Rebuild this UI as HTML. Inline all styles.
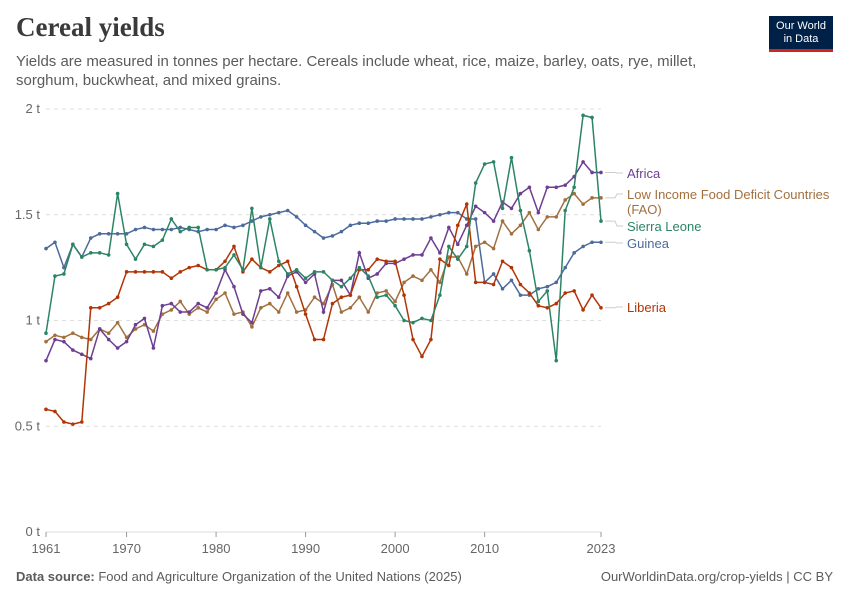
<!DOCTYPE html>
<html><head><meta charset="utf-8">
<style>
body{margin:0;background:#fff;font-family:"Liberation Sans",sans-serif;}
#wrap{position:relative;width:850px;height:600px;overflow:hidden;}
.title{position:absolute;left:16px;top:12px;font-family:"Liberation Serif",serif;font-size:27px;font-weight:bold;color:#3a3a3a;}
.sub{position:absolute;left:16px;top:52px;font-size:15px;line-height:19px;color:#5b5b5b;width:700px;}
.logo{position:absolute;left:769px;top:16px;width:64px;height:36px;background:#002147;border-bottom:3px solid #ce261e;color:#fff;font-size:11px;line-height:13px;text-align:center;padding-top:4px;box-sizing:border-box;}
.foot{position:absolute;top:569px;font-size:13px;color:#5b5b5b;}
</style></head><body>
<div id="wrap">
<div class="title">Cereal yields</div>
<div class="sub">Yields are measured in tonnes per hectare. Cereals include wheat, rice, maize, barley, oats, rye, millet, sorghum, buckwheat, and mixed grains.</div>
<div class="logo">Our World<br>in Data</div>
<svg id="chart" width="850" height="600" style="position:absolute;left:0;top:0"></svg>
<div class="foot" style="left:16px"><b>Data source:</b> Food and Agriculture Organization of the United Nations (2025)</div>
<div class="foot" style="right:17px">OurWorldinData.org/crop-yields | CC BY</div>
</div>
<script>
const firstYear = 1961;
const yTicks = [0, 0.5, 1, 1.5, 2];
const yTickLabels = ["0 t", "0.5 t", "1 t", "1.5 t", "2 t"];
const xTicks = [1961, 1970, 1980, 1990, 2000, 2010, 2023];
const guinea = [1.34,1.37,1.25,1.36,1.30,1.39,1.41,1.41,1.41,1.41,1.43,1.44,1.43,1.43,1.43,1.44,1.43,1.42,1.43,1.43,1.45,1.44,1.45,1.47,1.49,1.50,1.51,1.52,1.49,1.45,1.42,1.39,1.40,1.42,1.45,1.46,1.46,1.47,1.47,1.48,1.48,1.48,1.48,1.49,1.50,1.51,1.51,1.48,1.48,1.18,1.22,1.15,1.19,1.12,1.12,1.15,1.16,1.18,1.25,1.32,1.35,1.37,1.37];
const sierraLeone = [0.94,1.21,1.22,1.36,1.30,1.32,1.32,1.31,1.60,1.36,1.29,1.36,1.35,1.38,1.48,1.42,1.44,1.44,1.24,1.24,1.25,1.31,1.24,1.53,1.25,1.48,1.28,1.22,1.24,1.20,1.23,1.23,1.19,1.16,1.20,1.25,1.21,1.11,1.12,1.07,1.00,0.99,1.01,1.00,1.12,1.35,1.29,1.35,1.65,1.74,1.75,1.53,1.77,1.52,1.33,1.09,1.14,0.81,1.52,1.63,1.97,1.96,1.47];
const liberia = [0.58,0.57,0.52,0.51,0.52,1.06,1.06,1.08,1.11,1.23,1.23,1.23,1.23,1.23,1.20,1.23,1.25,1.26,1.24,1.24,1.28,1.35,1.23,1.29,1.25,1.23,1.26,1.28,1.16,1.03,0.91,0.91,1.08,1.11,1.12,1.24,1.24,1.29,1.28,1.28,1.12,0.91,0.83,0.91,1.29,1.26,1.45,1.55,1.18,1.18,1.17,1.28,1.25,1.17,1.13,1.07,1.06,1.08,1.13,1.14,1.05,1.12,1.06];
const africa = [0.81,0.91,0.90,0.86,0.84,0.82,0.96,0.91,0.87,0.90,0.98,1.01,0.87,1.07,1.08,1.04,1.04,1.08,1.06,1.13,1.24,1.16,1.03,0.99,1.14,1.15,1.11,1.21,1.23,1.18,1.22,1.04,1.19,1.19,1.12,1.32,1.20,1.22,1.27,1.27,1.29,1.31,1.31,1.39,1.32,1.44,1.36,1.45,1.54,1.51,1.47,1.56,1.53,1.60,1.63,1.51,1.63,1.63,1.64,1.68,1.75,1.70,1.70];
const lifdc = [0.90,0.93,0.92,0.94,0.92,0.91,0.96,0.94,0.99,0.92,0.96,0.98,0.95,1.03,1.05,1.09,1.03,1.06,1.04,1.10,1.13,1.03,1.04,0.97,1.06,1.08,1.04,1.13,1.04,1.05,1.11,1.08,1.17,1.04,1.06,1.11,1.04,1.13,1.14,1.09,1.18,1.21,1.19,1.24,1.18,1.30,1.30,1.22,1.35,1.37,1.34,1.47,1.41,1.45,1.51,1.43,1.49,1.49,1.57,1.60,1.55,1.58,1.58];
const seriesNames = ["Guinea","Sierra Leone","Liberia","Africa","LIFDC"];

const NS="http://www.w3.org/2000/svg", svg=document.getElementById('chart');
const x0=46,x1=601,yBase=532,yTop=109;
const xs=yr=>x0+(yr-1961)*(x1-x0)/(2023-1961);
const ys=v=>yBase-v*(yBase-yTop)/2;
function mk(t,a){const e=document.createElementNS(NS,t);for(const k in a)e.setAttribute(k,a[k]);svg.appendChild(e);return e;}
yTicks.forEach((t,i)=>{
  const g=mk('line',{x1:x0,x2:x1,y1:ys(t),y2:ys(t),stroke:'#ddd','stroke-dasharray':t===0?'':'4,4'});
  
  
  const l=mk('text',{x:40,y:ys(t)+4,'text-anchor':'end','font-size':13,fill:'#666'});
  l.textContent=yTickLabels[i];
  
  
});
xTicks.forEach(t=>{
  const tk=mk('line',{x1:xs(t),x2:xs(t),y1:yBase,y2:yBase+5,stroke:'#999'});
  
  
  const l=mk('text',{x:xs(t),y:yBase+21,'text-anchor':'middle','font-size':13,fill:'#666'});
  l.textContent=t;
  
  
});
const conf=[
 {d:guinea,c:'#4c6a9c',n:'guinea-line',lbl:['Guinea'],ly:243},
 {d:lifdc,c:'#a2703f',n:'lifdc-line',lbl:['Low Income Food Deficit Countries','(FAO)'],ly:194},
 {d:africa,c:'#6d3e91',n:'africa-line',lbl:['Africa'],ly:173},
 {d:liberia,c:'#b13507',n:'liberia-line',lbl:['Liberia'],ly:307},
 {d:sierraLeone,c:'#2c8465',n:'sierra-leone-line',lbl:['Sierra Leone'],ly:226}
];
conf.forEach(s=>{
  const pts=s.d.map((v,i)=>xs(firstYear+i)+','+ys(v)).join(' ');
  const p=mk('polyline',{points:pts,fill:'none',stroke:s.c,'stroke-width':1.5});
  
  
  s.d.forEach((v,i)=>{
    const c=mk('circle',{cx:xs(firstYear+i),cy:ys(v),r:1.8,fill:s.c});
    
    
  });
  const last=s.d[s.d.length-1];
  const cl=mk('polyline',{points:`${x1+4},${ys(last)} ${x1+14},${ys(last)} ${x1+16},${s.ly} ${x1+22},${s.ly}`,fill:'none',stroke:'#ccc'});
  
  
  s.lbl.forEach((t,j)=>{
    const l=mk('text',{x:627,y:s.ly+5+j*15,'font-size':13,fill:s.c});
    l.textContent=t;
    
    
  });
});
</script>
</body></html>
